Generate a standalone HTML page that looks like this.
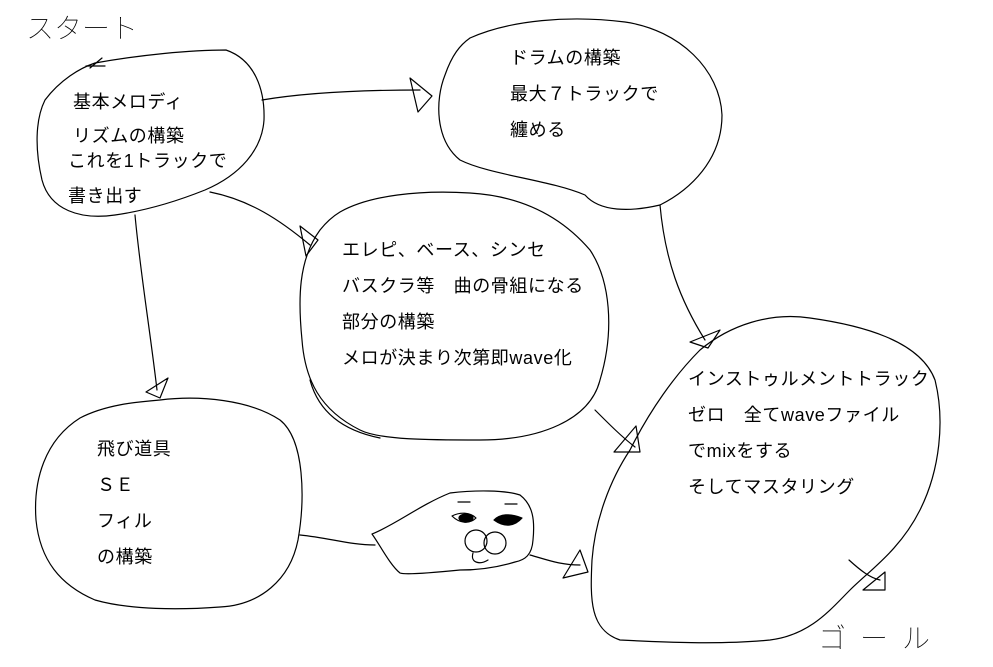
<!DOCTYPE html>
<html><head><meta charset="utf-8"><style>
html,body{margin:0;padding:0;background:#fff;}
svg{display:block}
text{font-family:"Liberation Sans","Noto Sans CJK JP",sans-serif;font-size:18px;letter-spacing:0.6px;fill:#000}
.h{font-family:"Noto Sans CJK JP",sans-serif;font-weight:100;font-size:28px;letter-spacing:0}
</style></head><body>
<svg width="993" height="667" viewBox="0 0 993 667" xmlns="http://www.w3.org/2000/svg">
<g fill="none" stroke="#000" stroke-width="1.2" stroke-linejoin="round" stroke-linecap="round">
<path d="M95,63 C140,55 190,50 226,50 C255,60 265,90 264,120 C262,150 240,175 205,190 C180,200 150,210 115,215 C80,220 50,210 42,180 C35,150 35,120 45,100 C60,80 80,68 95,63"/>
<path d="M470,38 C510,20 570,15 625,22 C680,30 720,70 722,115 C722,160 690,190 660,205 C630,212 600,212 585,195 C550,180 490,175 460,160 C435,140 435,100 445,75 C452,55 460,45 470,38"/>
<path d="M340,212 C370,195 420,190 470,193 C520,196 560,215 590,250 C610,280 615,330 600,380 C590,420 540,440 480,440 C430,440 380,440 360,430 C320,410 305,380 302,340 C298,300 298,260 320,230 C328,220 335,215 340,212"/>
<path d="M310,380 C318,410 340,430 380,438"/>
<path d="M160,400 C200,395 250,400 280,420 C305,440 305,500 298,540 C290,580 260,605 220,607 C180,610 130,610 95,600 C60,585 40,560 36,520 C33,480 45,440 80,418 C105,405 135,402 160,400"/>
<path d="M700,350 C730,325 770,312 810,318 C860,325 920,340 935,380 C945,420 940,470 920,510 C900,550 870,570 850,590 C830,610 810,635 770,640 C720,645 660,642 620,640 C590,630 590,600 592,560 C595,520 610,480 630,450 C650,410 675,375 700,350"/>
<path d="M372,534 C395,525 420,505 450,493 C475,490 505,490 520,495 C533,505 535,520 533,540 C532,555 525,560 515,562 C495,568 475,570 460,570 C430,573 405,575 400,573 C390,565 380,545 372,534"/>
<path d="M452,516 C460,512 470,512 476,518 C470,524 460,524 452,516"/>
<ellipse cx="466" cy="518" rx="7" ry="4" fill="#000"/>
<path d="M494,520 C500,514 510,513 522,518 C515,526 505,528 494,520" fill="#000"/>
<path d="M458,502 h12 M505,504 h12"/>
<circle cx="476" cy="541" r="11"/>
<circle cx="495" cy="543" r="11"/>
<path d="M473,553 C470,563 480,565 488,560"/>
<path d="M262,100 C310,92 370,90 420,90"/>
<path d="M410,78 L418,112 L432,96 Z"/>
<path d="M210,192 C250,200 280,220 310,245"/>
<path d="M300,226 L306,256 L318,240 Z"/>
<path d="M135,215 C140,270 150,330 157,390"/>
<path d="M146,392 L168,378 L160,398 Z"/>
<path d="M660,205 C665,260 680,300 705,340"/>
<path d="M690,342 L720,330 L708,348 Z"/>
<path d="M595,410 C610,425 622,437 635,447"/>
<path d="M614,452 L636,426 L640,452 Z"/>
<path d="M300,535 C330,538 350,545 375,545"/>
<path d="M530,555 C548,560 560,565 580,565"/>
<path d="M563,578 L580,550 L588,572 Z"/>
<path d="M849,560 C860,570 870,578 880,580"/>
<path d="M863,590 L885,572 L885,590 Z"/>
<path d="M90,68 L102,58 M86,66 L105,66"/>
</g>
<text class="h" x="26" y="38">スタート</text>
<text class="h" x="818" y="648" style="letter-spacing:14px">ゴール</text>
<text x="73" y="108">基本メロディ</text>
<text x="73" y="142">リズムの構築</text>
<text x="68" y="167">これを1トラックで</text>
<text x="68" y="202">書き出す</text>
<text x="510" y="64">ドラムの構築</text>
<text x="510" y="100">最大７トラックで</text>
<text x="510" y="136">纏める</text>
<text x="342" y="256">エレピ、ベース、シンセ</text>
<text x="342" y="292">バスクラ等　曲の骨組になる</text>
<text x="342" y="328">部分の構築</text>
<text x="342" y="364">メロが決まり次第即wave化</text>
<text x="688" y="385">インストゥルメントトラック</text>
<text x="688" y="421">ゼロ　全てwaveファイル</text>
<text x="688" y="457">でmixをする</text>
<text x="688" y="493">そしてマスタリング</text>
<text x="97" y="455">飛び道具</text>
<text x="97" y="491">ＳＥ</text>
<text x="97" y="527">フィル</text>
<text x="97" y="563">の構築</text>
</svg>
</body></html>
